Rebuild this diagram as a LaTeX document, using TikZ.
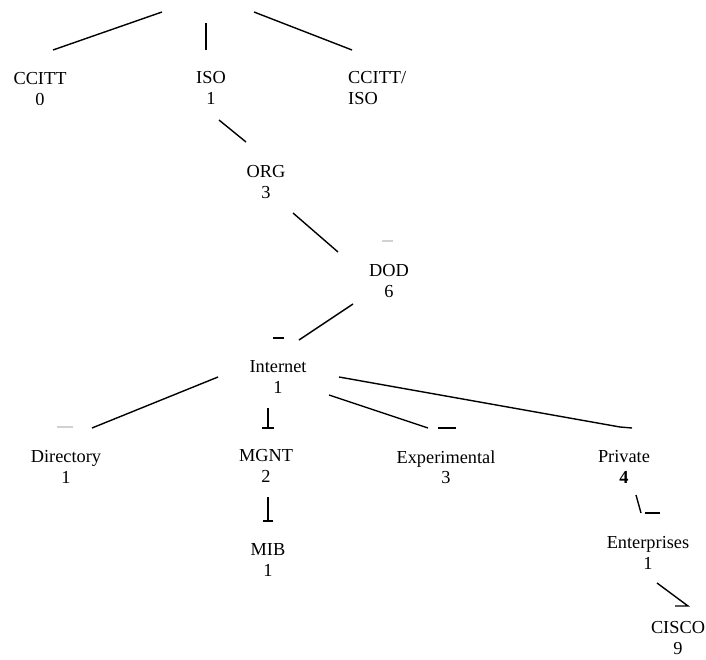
\documentclass[tikz,border=0pt]{standalone}
\usepackage{fontspec}
\setmainfont{Liberation Serif}
\usetikzlibrary{calc}
\begin{document}
\begin{tikzpicture}[x=1bp,y=-1bp,
  lbl/.style={inner sep=0pt,align=center,font=\fontsize{18.4}{20.5}\selectfont},
  edge/.style={line width=1.4bp},
  faint/.style={line width=1.2bp,black!18}]
\useasboundingbox (0,0) rectangle (706,660);
% top row: the lower line of each label is trimmed by the sheet edge
\begin{scope}
  \clip (0,0) rectangle (706,104.5);
  \node[lbl] (ccitt) at (40,89) {CCITT\\0};
  \node[lbl] (iso) at (211,88) {ISO\\1};
  \node[lbl,align=left,anchor=west] (joint) at (348,88) {CCITT/\\ISO};
\end{scope}
% remaining tree nodes
\node[lbl] (org) at (266,182) {ORG\\3};
\node[lbl] (dod) at (389,281) {DOD\\6};
\node[lbl] (inet) at (278,377) {Internet\\1};
\node[lbl] (dir) at (66,467) {Directory\\1};
\node[lbl] (mgnt) at (266,466) {MGNT\\2};
\node[lbl] (exp) at (446,467) {Experimental\\3};
\node[lbl] (priv) at (624,467) {Private\\\textbf{4}};
\node[lbl] (mib) at (268,560) {MIB\\1};
\node[lbl] (ent) at (648,553) {Enterprises\\1};
\node[lbl] (cisco) at (678,638) {CISCO\\9};
% upper ends of the top branches
\coordinate (rootL) at (162,12);
\coordinate (rootM) at (206,23);
\coordinate (rootR) at (254,12);
% connectors
\draw[edge] (rootL) -- ($(ccitt)+(13,-39)$);
\draw[edge] (rootM) -- ($(iso)+(-5,-38)$);
\draw[edge] (rootR) -- ($(joint.west)+(4,-38)$);
\draw[edge] ($(iso)+(8,32)$) -- ($(org)+(-20,-40)$);
\draw[edge] ($(org)+(27,31)$) -- ($(dod)+(-51,-29)$);
\draw[faint] ($(dod)+(-7,-40)$) -- ($(dod)+(4,-40)$);
\draw[edge] ($(dod)+(-36,23)$) -- ($(inet)+(21,-37)$);
\draw[edge] ($(inet)+(-5,-39)$) -- ($(inet)+(6,-39)$);
\draw[edge] ($(inet)+(-60,0)$) -- ($(dir)+(26,-39)$);
\draw[faint] ($(dir)+(-9,-40)$) -- ($(dir)+(7,-40)$);
\draw[edge] ($(inet)+(-10,31)$) -- ($(mgnt)+(2,-38)$);
\draw[edge] ($(mgnt)+(-4,-38)$) -- ($(mgnt)+(8,-38)$);
\draw[edge] ($(inet)+(51,18)$) -- ($(exp)+(-18,-39)$);
\draw[edge] ($(exp)+(-8,-39)$) -- ($(exp)+(10,-39)$);
\draw[edge] ($(inet)+(61,0)$) -- ($(priv)+(-4,-40)$) -- ($(priv)+(8,-39)$);
\draw[edge] ($(mgnt)+(2,31)$) -- ($(mib)+(0,-39)$);
\draw[edge] ($(mib)+(-5,-39)$) -- ($(mib)+(5,-39)$);
\draw[edge] ($(priv)+(12,28)$) -- ($(ent)+(-7,-40)$);
\draw[edge] ($(ent)+(-3,-40)$) -- ($(ent)+(12,-40)$);
\draw[edge] ($(ent)+(9,30)$) -- ($(cisco)+(10,-32)$) -- ($(cisco)+(-3,-32)$);
\end{tikzpicture}
\end{document}
